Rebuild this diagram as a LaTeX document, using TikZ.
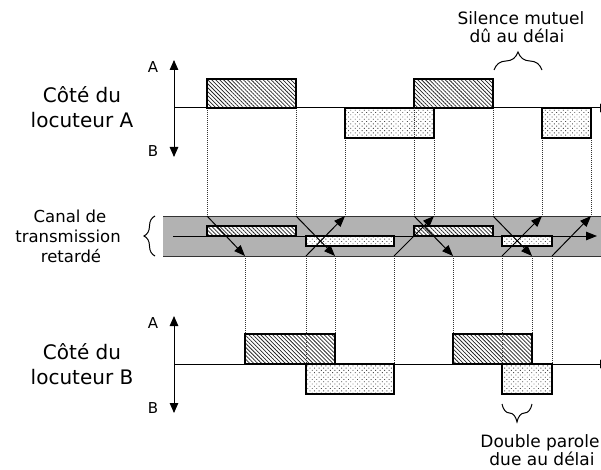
\documentclass[tikz,border=0pt]{standalone}
\usepackage{fontspec}
\setmainfont{DejaVu Sans}
\usetikzlibrary{patterns.meta,decorations.pathreplacing,arrows.meta}
\definecolor{chan}{RGB}{178,178,178}
\tikzset{
  hatchbox/.style={draw=black, line width=1.3pt, preaction={fill=white},
    pattern={Lines[angle=-45,distance=2.8pt,line width=0.75pt]}, pattern color=black!85},
  dotbox/.style={draw=black, line width=1.3pt, preaction={fill=white},
    pattern={Dots[radius=0.65pt,distance=3.2pt,angle=45]}, pattern color=black!70},
  tl/.style={dash pattern=on 1pt off 1pt, line width=0.7pt, black!80},
  arr/.style={-{Triangle[length=11pt,width=8.5pt]}, line width=1pt},
  axis/.style={{Triangle[length=10pt,width=8.5pt]}-{Triangle[length=10pt,width=8.5pt]}, line width=1pt},
  big/.style={font=\fontsize{20}{24}\selectfont, anchor=base, inner sep=0pt},
  mid/.style={font=\fontsize{17}{20}\selectfont, anchor=base, inner sep=0pt},
  small/.style={font=\fontsize{15}{18}\selectfont, anchor=base, inner sep=0pt},
  brc/.style={decorate, decoration={brace, amplitude=#1}, line width=1pt},
}
\begin{document}
\begin{tikzpicture}[x=1pt,y=-1pt]
\useasboundingbox (0,0) rectangle (601,470);
\clip (0,0) rectangle (601,470);

% ---------- texts ----------
\node[big] (ca1) at (82,103) {Côté du};
\node[big] (ca2) at (82,128) {locuteur A};
\node[big] (cb1) at (82,359) {Côté du};
\node[big] (cb2) at (82,384) {locuteur B};
\node[small] (aA) at (153,73) {A};
\node[small] (aB) at (153,157) {B};
\node[small] (bA) at (153,328) {A};
\node[small] (bB) at (153,413) {B};
\node[mid, font=\fontsize{16.5}{20}\selectfont] (ch1) at (70,222) {Canal de};
\node[mid, font=\fontsize{16.5}{20}\selectfont] (ch2) at (68,242) {transmission};
\node[mid, font=\fontsize{16.5}{20}\selectfont] (ch3) at (71,262) {retardé};
\node[mid] (s1) at (521,25) {Silence mutuel};
\node[mid] (s2) at (517,43) {dû au délai};
\node[mid] (d1) at (540,447) {Double parole};
\node[mid] (d2) at (542,465) {due au délai};

% ---------- braces ----------
\draw[brc=18pt] (494,70) -- (542,70);
\draw[brc=18pt] (532,404) -- (502,404);
\draw[brc=11pt] (155,256) -- (155,216);

% ---------- channel ----------
\fill[chan] (163,216) rectangle (601,256);
\draw[line width=1pt, black!80] (163,216) -- (601,216);
\draw[line width=1pt, black!80] (163,256) -- (601,256);
\coordinate (cs) at (173,236);
\coordinate (ce) at (597,236);
\draw[arr] (cs) -- (ce);

% ---------- dotted time lines ----------
\foreach \x in {207,296,345,414,434,493,542,591}
  \draw[tl] (\x,108) -- (\x,216);
\foreach \x in {245,306,335,394,453,502,532,552}
  \draw[tl] (\x,256) -- (\x,364);

% ---------- speaker A side ----------
\coordinate (a0) at (174,108);
\coordinate (a1) at (611,108);
\draw[line width=1pt, -{Triangle[length=11pt,width=8.5pt]}] (a0) -- (a1);
\coordinate (at) at (174,60);
\coordinate (ab) at (174,157);
\draw[axis] (at) -- (ab);
\draw[hatchbox] (207,79) rectangle (296,108);
\draw[hatchbox] (414,79) rectangle (493,108);
\draw[dotbox] (345,108) rectangle (434,138);
\draw[dotbox] (542,108) rectangle (591,138);
\foreach \x in {414}
  \draw[tl] (\x,108) -- (\x,138);

% ---------- speaker B side ----------
\coordinate (b0) at (174,364);
\coordinate (b1) at (611,364);
\draw[line width=1pt, -{Triangle[length=11pt,width=8.5pt]}] (b0) -- (b1);
\coordinate (bt) at (174,316);
\coordinate (bb) at (174,413);
\draw[axis] (bt) -- (bb);
\draw[hatchbox] (245,334) rectangle (335,364);
\draw[hatchbox] (453,334) rectangle (532,364);
\draw[dotbox] (306,364) rectangle (394,394);
\draw[dotbox] (502,364) rectangle (552,394);
\foreach \x in {306,502}
  \draw[tl] (\x,334) -- (\x,364);

% ---------- channel boxes ----------
\draw[hatchbox] (207,226) rectangle (296,236);
\draw[hatchbox] (414,226) rectangle (493,236);
\draw[dotbox] (306,236) rectangle (394,246);
\draw[dotbox] (502,236) rectangle (552,246);

% ---------- delayed arrows ----------
\foreach \i/\a/\b in {1/207/245,2/296/335,3/414/453,4/493/532} {
  \coordinate (ta\i) at (\a,216);
  \coordinate (ba\i) at (\b,256);
  \draw[arr] (ta\i) -- (ba\i);
}
\foreach \i/\a/\b in {1/306/345,2/394/434,3/502/542,4/552/591} {
  \coordinate (tb\i) at (\a,256);
  \coordinate (bb\i) at (\b,216);
  \draw[arr] (tb\i) -- (bb\i);
}
\end{tikzpicture}
\end{document}
